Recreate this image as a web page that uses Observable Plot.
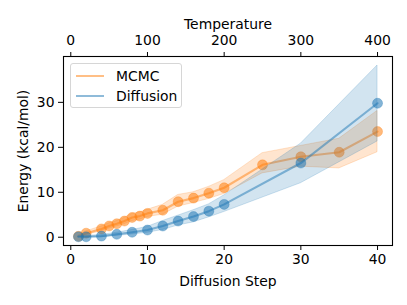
<!DOCTYPE html>
<html>
<head>
<meta charset="utf-8">
<script src="https://cdn.jsdelivr.net/npm/d3@7"></script>
<script src="https://cdn.jsdelivr.net/npm/@observablehq/plot@0.6"></script>
<style>
  html, body { margin: 0; padding: 0; background: #fff; }
  #wrap { position: relative; width: 407px; height: 305px; font-family: "DejaVu Sans", sans-serif; }
  #legend { position: absolute; left: 70px; top: 63px; width: 112px; height: 45px; border: 1px solid #d6d6d6; border-radius: 3px; background: rgba(255,255,255,0.8); box-sizing: border-box; font-size: 13.9px; color: #000; }
  .row { position: absolute; left: 5px; height: 18px; display: flex; align-items: center; }
  .sw { width: 28px; height: 2px; margin-right: 12px; }
</style>
</head>
<body>
<div id="wrap"></div>
<script>
// Diffusion step (bottom axis); Temperature = step * 10 (top axis)
const mcmcSteps  = [1, 2, 4, 5, 6, 7, 8, 9, 10, 12, 14, 16, 18, 20, 25, 30, 35, 40];
const mcmcEnergy = [0.2, 0.9, 1.85, 2.5, 3.0, 3.6, 4.4, 4.7, 5.3, 6.0, 7.9, 8.7, 9.8, 11.0, 16.1, 17.9, 18.9, 23.5];
const mcmcLow    = [0.0, 0.5, 1.3, 1.9, 2.4, 2.9, 3.6, 3.9, 4.5, 5.0, 6.8, 7.6, 8.5, 9.6, 14.2, 15.7, 15.3, 18.9];
const mcmcHigh   = [0.4, 1.3, 2.4, 3.1, 3.6, 4.3, 5.2, 5.5, 6.1, 7.2, 9.4, 10.0, 11.2, 12.7, 18.7, 20.3, 21.9, 28.1];

const diffSteps  = [1, 2, 4, 6, 8, 10, 12, 14, 16, 18, 20, 30, 40];
const diffEnergy = [0.1, 0.1, 0.25, 0.65, 1.1, 1.6, 2.5, 3.6, 4.6, 5.8, 7.3, 16.5, 29.8];
const diffLow    = [0.0, 0.0, 0.0, 0.3, 0.6, 1.0, 1.6, 2.6, 3.3, 4.4, 5.6, 12.0, 21.3];
const diffHigh   = [0.2, 0.3, 0.5, 1.0, 1.6, 2.3, 3.6, 4.8, 6.0, 7.3, 9.3, 20.8, 38.2];

const seriesNames = ["MCMC", "Diffusion"];
const seriesColors = ["#ff7f0e", "#1f77b4"];
const yTicks = [0, 10, 20, 30];
const xTicks = [0, 10, 20, 30, 40];

const mcmc = mcmcSteps.map((s, i) => ({step: s, e: mcmcEnergy[i], lo: mcmcLow[i], hi: mcmcHigh[i]}));
const diff = diffSteps.map((s, i) => ({step: s, e: diffEnergy[i], lo: diffLow[i], hi: diffHigh[i]}));

const FS = 13.9;
const chart = Plot.plot({
  width: 407,
  height: 305,
  marginLeft: 63,
  marginRight: 15,
  marginTop: 56,
  marginBottom: 60,
  style: {fontFamily: "DejaVu Sans, sans-serif", fontSize: FS + "px", color: "#000", background: "transparent", overflow: "visible"},
  x: {domain: [-0.95, 41.95]},
  y: {domain: [-1.84, 40.2]},
  marks: [
    Plot.areaY(mcmc, {x: "step", y1: "lo", y2: "hi", fill: seriesColors[0], fillOpacity: 0.2, stroke: seriesColors[0], strokeOpacity: 0.2, strokeWidth: 1}),
    Plot.lineY(mcmc, {x: "step", y: "e", stroke: seriesColors[0], strokeOpacity: 0.5, strokeWidth: 2.1}),
    Plot.dot(mcmc, {x: "step", y: "e", r: 5, fill: seriesColors[0], fillOpacity: 0.55, stroke: seriesColors[0], strokeOpacity: 0.3, strokeWidth: 1}),
    Plot.areaY(diff, {x: "step", y1: "lo", y2: "hi", fill: seriesColors[1], fillOpacity: 0.2, stroke: seriesColors[1], strokeOpacity: 0.2, strokeWidth: 1}),
    Plot.lineY(diff, {x: "step", y: "e", stroke: seriesColors[1], strokeOpacity: 0.5, strokeWidth: 2.1}),
    Plot.dot(diff, {x: "step", y: "e", r: 5, fill: seriesColors[1], fillOpacity: 0.55, stroke: seriesColors[1], strokeOpacity: 0.3, strokeWidth: 1}),
    Plot.frame({stroke: "#000", strokeWidth: 1.1}),
    Plot.axisX({anchor: "bottom", ticks: xTicks, tickSize: 5, tickPadding: 4, label: "Diffusion Step", labelAnchor: "center", labelArrow: "none", labelOffset: 40, fontSize: FS}),
    Plot.axisX({anchor: "top", ticks: xTicks, tickFormat: d => d * 10, tickSize: 5, tickPadding: 7, label: "Temperature", labelAnchor: "center", labelArrow: "none", labelOffset: 37, fontSize: FS}),
    Plot.axisY({anchor: "left", ticks: yTicks, tickSize: 5, tickPadding: 4, label: "Energy (kcal/mol)", labelAnchor: "center", labelArrow: "none", labelOffset: 45, fontSize: FS})
  ]
});

const wrap = document.getElementById("wrap");
wrap.appendChild(chart);

const legend = document.createElement("div");
legend.id = "legend";
seriesNames.forEach((name, i) => {
  const row = document.createElement("div");
  row.className = "row";
  row.style.top = (3 + i * 20) + "px";
  const sw = document.createElement("div");
  sw.className = "sw";
  sw.style.background = seriesColors[i];
  sw.style.opacity = 0.5;
  const t = document.createElement("span");
  t.textContent = name;
  row.appendChild(sw);
  row.appendChild(t);
  legend.appendChild(row);
});
wrap.appendChild(legend);
</script>
</body>
</html>
